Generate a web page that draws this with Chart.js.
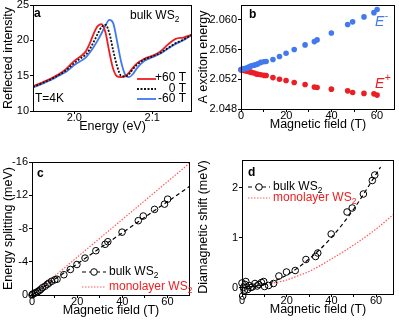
<!DOCTYPE html>
<html>
<head>
<meta charset="utf-8">
<script src="https://cdn.jsdelivr.net/npm/chart.js@4.4.1/dist/chart.umd.min.js"></script>
<style>
  body { margin: 0; background: #fff; }
  #fig { position: relative; width: 399px; height: 321px; }
  #fig canvas { position: absolute; left: 0; top: 0; }
</style>
</head>
<body>
<div id="fig">
  <canvas id="chart-a" width="399" height="321"></canvas>
  <canvas id="chart-b" width="399" height="321"></canvas>
  <canvas id="chart-c" width="399" height="321"></canvas>
  <canvas id="chart-d" width="399" height="321"></canvas>
</div>
<script>
/************************ data ************************/

// panel a : reflectance spectra
const energy = [1.947, 1.96, 1.97, 1.98, 1.99, 2.0, 2.01, 2.015, 2.02, 2.025, 2.03, 2.035, 2.04, 2.045,
  2.05, 2.055, 2.06, 2.065, 2.07, 2.075, 2.08, 2.09, 2.1, 2.11, 2.12, 2.13, 2.14, 2.151];
const reflPlus60 = [13.5, 14.1, 14.6, 15.2, 16.0, 17.1, 17.9, 18.5, 19.6, 21.0, 22.0, 22.3, 21.1, 18.3,
  15.9, 14.9, 14.8, 14.9, 15.4, 16.1, 16.7, 17.4, 17.8, 18.4, 19.4, 20.2, 20.4, 20.8];
const reflZero = [13.4, 14.0, 14.5, 15.1, 15.8, 16.8, 17.6, 18.0, 18.8, 19.8, 20.9, 21.9, 22.2, 21.0,
  18.5, 16.3, 15.0, 14.9, 15.2, 15.9, 16.5, 17.3, 17.7, 18.2, 18.9, 19.6, 20.1, 20.8];
const reflMinus60 = [13.3, 13.9, 14.4, 15.0, 15.6, 16.5, 17.2, 17.6, 18.3, 19.1, 20.0, 21.0, 22.1, 22.9,
  22.4, 19.8, 17.0, 15.2, 14.8, 15.2, 16.0, 17.1, 17.6, 18.1, 18.8, 19.5, 20.0, 20.8];

// panels b, c : magnetic field of each measurement
const field = [0, 0.3, 1.0, 1.7, 2.5, 3.2, 3.9, 4.6, 5.8, 6.8, 7.5, 8.7, 10.1, 11.1, 14.1, 17, 19.9,
  23.5, 28.3, 32.4, 33.6, 39.9, 47.1, 49.3, 54.3, 58.7, 60.1];
const eMinus = [2.0533, 2.05335, 2.0534, 2.05345, 2.0535, 2.0536, 2.0537, 2.0538, 2.0539, 2.054,
  2.0541, 2.05427, 2.05436, 2.0544, 2.05467, 2.05507, 2.0555, 2.056, 2.05663, 2.05707, 2.0573,
  2.05823, 2.05938, 2.05973, 2.0604, 2.06097, 2.0614];
const ePlus = [2.05329, 2.05324, 2.0532, 2.05316, 2.05311, 2.05307, 2.05302, 2.05293, 2.05284,
  2.05271, 2.05267, 2.05262, 2.05253, 2.0525, 2.05223, 2.052, 2.05183, 2.05156, 2.0513, 2.05097,
  2.05089, 2.05067, 2.05044, 2.05023, 2.0501, 2.05004, 2.04987];

// panel c : splitting (meV)
const splitting = [-0.01, -0.11, -0.2, -0.29, -0.39, -0.53, -0.68, -0.87, -1.06, -1.29, -1.43, -1.65,
  -1.83, -1.9, -2.44, -3.07, -3.67, -4.44, -5.33, -6.1, -6.41, -7.56, -8.94, -9.5, -10.3, -10.93, -11.53];
const splitFitField = [0, 70];
const splitFitBulk = [0, -13.1];
const splitFitMono = [0, -15.9];

// panel d : diamagnetic shift (meV)
const diaField = [0, 0.3, 0.6, 1.0, 1.4, 1.7, 2.5, 3.2, 3.9, 4.6, 5.8, 6.8, 7.5, 8.7, 9.7, 10.1, 11.9,
  14.1, 16.5, 19.9, 23.8, 28.6, 32.9, 33.9, 39.9, 47, 49.3, 54.3, 58.3, 59.4];
const diaShift = [0.09, -0.17, 0.0, -0.07, 0.06, 0.12, -0.04, 0.04, 0.0, 0.01, 0.08, 0.03, 0.06, 0.1,
  0.12, 0.02, 0.04, 0.08, 0.23, 0.31, 0.34, 0.56, 0.62, 0.69, 1.07, 1.51, 1.59, 1.87, 2.14, 2.25];
const diaFitField = [0, 10, 20, 30, 40, 50, 62];
const diaFitBulk = [0, 0.06, 0.25, 0.57, 1.0, 1.57, 2.41];
const diaMonoField = [13, 20, 26, 30, 40, 50, 60, 68];
const diaMono = [0.08, 0.15, 0.25, 0.32, 0.57, 0.85, 1.17, 1.47];

// tick values and labels
const aTicksX = [2.0, 2.1], aLabelsX = ["2.0", "2.1"];
const aTicksY = [10, 15, 20, 25], aLabelsY = ["10", "15", "20", "25"];
const fieldTicks = [0, 10, 20, 30, 40, 50, 60], fieldLabels = ["0", "", "20", "", "40", "", "60"];
const bTicksY = [2.048, 2.052, 2.056, 2.06], bLabelsY = ["2.048", "2.052", "2.056", "2.060"];
const cTicksY = [-16, -12, -8, -4, 0], cLabelsY = ["-16", "-12", "-8", "-4", "0"];
const dTicksY = [0, 1, 2], dLabelsY = ["0", "1", "2"];

/************************ helpers ************************/

const FONT = '"Liberation Sans", Arial, Helvetica, sans-serif';
const RED = "#ec1e24";
const BLUE = "#4279ef";
const PINK = "#ff5a5a";

function xy(xs, ys) {
  return xs.map((x, i) => ({ x: x, y: ys[i] }));
}

function axis(min, max, ticks, labels, title, size, horizontal) {
  return {
    type: "linear",
    min: min,
    max: max,
    afterBuildTicks: (s) => { s.ticks = ticks.map((v) => ({ value: v })); },
    afterFit: (s) => {
      if (horizontal) s.height = size; else s.width = size;
      s.paddingTop = 0; s.paddingBottom = 0; s.paddingLeft = 0; s.paddingRight = 0;
    },
    ticks: {
      color: "#000",
      autoSkip: false,
      maxRotation: 0,
      padding: horizontal ? -2 : 1,
      font: { family: FONT, size: 11, lineHeight: 1 },
      callback: (v, i) => labels[i],
    },
    grid: { drawOnChartArea: false, tickLength: 3, color: "#000", tickColor: "#000" },
    border: { display: false },
    title: {
      display: true,
      text: title,
      color: "#000",
      font: { family: FONT, size: 12.5 },
      padding: { top: 1, bottom: 0 },
    },
  };
}

// frame round the plot + free text and hand made legends
function notes(items) {
  return {
    id: "notes",
    afterDraw(chart) {
      const c = chart.ctx;
      const a = chart.chartArea;
      c.save();
      c.strokeStyle = "#000";
      c.lineWidth = 1;
      c.setLineDash([]);
      c.strokeRect(a.left + 0.5, a.top + 0.5, a.right - a.left - 1, a.bottom - a.top);
      items.forEach((it) => {
        if (it.line) {
          const [x1, x2, y] = it.line;
          c.strokeStyle = it.color;
          c.lineWidth = it.width || 1.2;
          c.setLineDash(it.dash || []);
          c.beginPath();
          c.moveTo(x1, y);
          c.lineTo(x2, y);
          c.stroke();
          if (it.circle) {
            c.setLineDash([]);
            c.lineWidth = 1;
            c.fillStyle = "#fff";
            c.beginPath();
            c.arc(it.circle, y, 3.3, 0, Math.PI * 2);
            c.fill();
            c.stroke();
          }
          return;
        }
        const size = it.size || 12;
        c.font = (it.style || "") + " " + size + "px " + FONT;
        c.fillStyle = it.color || "#000";
        c.textAlign = it.align || "left";
        c.textBaseline = "middle";
        c.fillText(it.t, it.x, it.y);
        const w = c.measureText(it.t).width;
        if (it.sub) {
          c.font = size * 0.7 + "px " + FONT;
          c.textAlign = "left";
          c.fillText(it.sub, it.x + w, it.y + 4);
        }
        if (it.sup) {
          c.font = size * 0.75 + "px " + FONT;
          c.textAlign = "left";
          c.fillText(it.sup, it.x + w + 0.5, it.y - 6);
        }
      });
      c.restore();
    },
  };
}

const common = {
  responsive: false,
  animation: false,
  devicePixelRatio: 1,
  events: [],
};
const quiet = { legend: { display: false }, tooltip: { enabled: false } };

/************************ panel a : spectra ************************/

const ctx1 = document.getElementById("chart-a").getContext("2d");
const myChart1 = new Chart(ctx1, {
  type: "scatter",
  data: {
    datasets: [
      { label: "0 T", data: xy(energy, reflZero), showLine: true, borderColor: "#111", borderWidth: 1.8,
        borderDash: [2, 1.5], pointRadius: 0, cubicInterpolationMode: "monotone", order: 0 },
      { label: "+60 T", data: xy(energy, reflPlus60), showLine: true, borderColor: RED, borderWidth: 1.8,
        pointRadius: 0, cubicInterpolationMode: "monotone", order: 1 },
      { label: "-60 T", data: xy(energy, reflMinus60), showLine: true, borderColor: BLUE, borderWidth: 1.8,
        pointRadius: 0, cubicInterpolationMode: "monotone", order: 2 },
    ],
  },
  options: Object.assign({}, common, {
    layout: { padding: { left: 0, top: 5, right: 207, bottom: 187 } },
    scales: {
      x: axis(1.947, 2.151, aTicksX, aLabelsX, "Energy (eV)", 23, true),
      y: axis(10, 25, aTicksY, aLabelsY, "Reflected intensity", 33, false),
    },
    plugins: quiet,
  }),
  plugins: [notes([
    { t: "a", x: 34, y: 14, style: "bold" },
    { t: "bulk WS", sub: "2", x: 130, y: 16 },
    { t: "T=4K", x: 35, y: 99 },
    { line: [137, 156, 79], color: RED, width: 1.8 },
    { t: "+60 T", x: 186, y: 78, align: "right" },
    { line: [137, 156, 89], color: "#111", width: 1.8, dash: [2, 1.5] },
    { t: "0 T", x: 186, y: 89, align: "right" },
    { line: [137, 156, 99], color: BLUE, width: 1.8 },
    { t: "-60 T", x: 186, y: 99, align: "right" },
  ])],
});

/************************ panel b : exciton energies ************************/

const ctx2 = document.getElementById("chart-b").getContext("2d");
const myChart2 = new Chart(ctx2, {
  type: "scatter",
  data: {
    datasets: [
      { label: "E-", data: xy(field, eMinus), backgroundColor: BLUE, borderWidth: 0, pointRadius: 2.8, clip: false },
      { label: "E+", data: xy(field, ePlus), backgroundColor: RED, borderWidth: 0, pointRadius: 2.8, clip: false },
    ],
  },
  options: Object.assign({}, common, {
    layout: { padding: { left: 195, top: 5, right: 1, bottom: 189 } },
    scales: {
      x: axis(0, 68, fieldTicks, fieldLabels, "Magnetic field (T)", 23, true),
      y: axis(2.048, 2.062, bTicksY, bLabelsY, "A exciton energy", 46, false),
    },
    plugins: quiet,
  }),
  plugins: [notes([
    { t: "b", x: 249, y: 15, style: "bold" },
    { t: "E", sup: "-", x: 375, y: 22, style: "italic", size: 14, color: BLUE },
    { t: "E", sup: "+", x: 375, y: 84, style: "italic", size: 14, color: RED },
  ])],
});

/************************ panel c : splitting ************************/

const ctx3 = document.getElementById("chart-c").getContext("2d");
const myChart3 = new Chart(ctx3, {
  type: "scatter",
  data: {
    datasets: [
      { label: "bulk WS2", data: xy(field, splitting), backgroundColor: "transparent", borderColor: "#000",
        borderWidth: 1, pointRadius: 3.3, clip: false, order: 0 },
      { label: "bulk fit", data: xy(splitFitField, splitFitBulk), showLine: true, borderColor: "#000",
        borderWidth: 1.2, borderDash: [4, 3], pointRadius: 0, order: 1 },
      { label: "monolayer WS2", data: xy(splitFitField, splitFitMono), showLine: true, borderColor: PINK,
        borderWidth: 1.2, borderDash: [1.5, 1.5], pointRadius: 0, order: 2 },
    ],
  },
  options: Object.assign({}, common, {
    layout: { padding: { left: 0, top: 162, right: 209, bottom: 3 } },
    scales: {
      x: axis(0, 70, fieldTicks, fieldLabels, "Magnetic field (T)", 23, true),
      y: Object.assign(axis(-16, 0, cTicksY, cLabelsY, "Energy splitting (meV)", 32, false), { reverse: true }),
    },
    plugins: quiet,
  }),
  plugins: [notes([
    { t: "c", x: 37, y: 174, style: "bold" },
    { line: [82, 106, 272], color: "#000", dash: [4, 3], circle: 94 },
    { t: "bulk WS", sub: "2", x: 109, y: 272 },
    { line: [82, 106, 287], color: PINK, dash: [1.5, 1.5] },
    { t: "monolayer WS", sub: "2", x: 109, y: 287, color: "#f01e1e" },
  ])],
});

/************************ panel d : diamagnetic shift ************************/

const ctx4 = document.getElementById("chart-d").getContext("2d");
const myChart4 = new Chart(ctx4, {
  type: "scatter",
  data: {
    datasets: [
      { label: "bulk WS2", data: xy(diaField, diaShift), backgroundColor: "transparent", borderColor: "#000",
        borderWidth: 1, pointRadius: 3.3, clip: false, order: 0 },
      { label: "bulk fit", data: xy(diaFitField, diaFitBulk), showLine: true, borderColor: "#000",
        borderWidth: 1.2, borderDash: [4, 3], pointRadius: 0, cubicInterpolationMode: "monotone", order: 1 },
      { label: "monolayer WS2", data: xy(diaMonoField, diaMono), showLine: true, borderColor: PINK,
        borderWidth: 1.2, borderDash: [1.5, 1.5], pointRadius: 0, cubicInterpolationMode: "monotone", order: 2 },
    ],
  },
  options: Object.assign({}, common, {
    layout: { padding: { left: 195, top: 160, right: 1, bottom: 4 } },
    scales: {
      x: axis(0, 68, fieldTicks, fieldLabels, "Magnetic field (T)", 23, true),
      y: axis(-0.13, 2.55, dTicksY, dLabelsY, "Diamagnetic shift (meV)", 47, false),
    },
    plugins: quiet,
  }),
  plugins: [notes([
    { t: "d", x: 248, y: 173, style: "bold" },
    { line: [248, 270, 187], color: "#000", dash: [4, 3], circle: 259 },
    { t: "bulk WS", sub: "2", x: 273, y: 187 },
    { line: [248, 270, 198], color: PINK, dash: [1.5, 1.5] },
    { t: "monolayer WS", sub: "2", x: 273, y: 198, color: "#f01e1e" },
  ])],
});
</script>
</body>
</html>
